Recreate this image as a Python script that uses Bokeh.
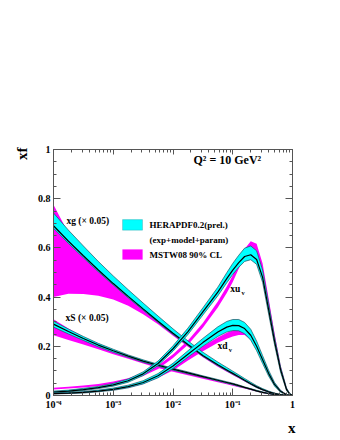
from bokeh.plotting import figure
from bokeh.models import LogAxis, LinearAxis, Label, FixedTicker, BoxAnnotation, Title
from bokeh.embed import file_html
from bokeh.resources import INLINE

# ---------------- data ----------------
x = [1e-4, 1.78e-4, 3.16e-4, 5.62e-4, 1e-3, 1.78e-3, 3.16e-3, 5.62e-3, 1e-2, 1.78e-2,
     3.16e-2, 5.62e-2, 0.0794, 0.1, 0.126, 0.158, 0.2, 0.251, 0.316, 0.398,
     0.501, 0.631, 0.794, 0.891, 1.0]

# HERAPDF0.2 (prel.) : central, upper, lower
xg_c  = [0.69, 0.627, 0.568, 0.51, 0.455, 0.403, 0.352, 0.302, 0.253, 0.207, 0.163, 0.125, 0.104, 0.09, 0.076, 0.062, 0.048, 0.035, 0.024, 0.015, 0.008, 0.0035, 0.001, 0.0003, 0]
xg_hi = [0.742, 0.672, 0.608, 0.545, 0.486, 0.43, 0.376, 0.323, 0.271, 0.222, 0.176, 0.136, 0.114, 0.099, 0.084, 0.069, 0.054, 0.04, 0.028, 0.018, 0.01, 0.0045, 0.0013, 0.0004, 0]
xg_lo = [0.68, 0.618, 0.56, 0.503, 0.449, 0.397, 0.347, 0.297, 0.248, 0.203, 0.159, 0.121, 0.1, 0.086, 0.073, 0.059, 0.045, 0.032, 0.022, 0.013, 0.007, 0.0025, 0.0008, 0.0002, 0]

xS_c  = [0.29, 0.26, 0.232, 0.205, 0.182, 0.16, 0.14, 0.123, 0.107, 0.092, 0.077, 0.062, 0.053, 0.047, 0.04, 0.033, 0.026, 0.019, 0.013, 0.008, 0.004, 0.0017, 0.0005, 0.0001, 0]
xS_hi = [0.302, 0.27, 0.24, 0.212, 0.188, 0.165, 0.145, 0.127, 0.111, 0.096, 0.08, 0.065, 0.056, 0.05, 0.043, 0.035, 0.028, 0.021, 0.015, 0.009, 0.005, 0.0022, 0.0007, 0.0002, 0]
xS_lo = [0.278, 0.25, 0.224, 0.198, 0.176, 0.155, 0.135, 0.119, 0.103, 0.088, 0.074, 0.059, 0.05, 0.044, 0.037, 0.031, 0.024, 0.017, 0.011, 0.007, 0.003, 0.0012, 0.0003, 0.0001, 0]

xuv_c  = [0.014, 0.018, 0.024, 0.032, 0.043, 0.06, 0.088, 0.13, 0.19, 0.26, 0.34, 0.42, 0.475, 0.51, 0.54, 0.565, 0.572, 0.553, 0.48, 0.35, 0.22, 0.105, 0.025, 0.007, 0]
xuv_hi = [0.018, 0.022, 0.029, 0.037, 0.049, 0.067, 0.096, 0.14, 0.202, 0.274, 0.356, 0.44, 0.499, 0.537, 0.57, 0.599, 0.608, 0.588, 0.51, 0.375, 0.238, 0.117, 0.031, 0.010, 0]
xuv_lo = [0.011, 0.015, 0.020, 0.028, 0.038, 0.054, 0.081, 0.122, 0.18, 0.248, 0.327, 0.405, 0.458, 0.492, 0.521, 0.545, 0.552, 0.533, 0.46, 0.332, 0.206, 0.095, 0.02, 0.005, 0]

xdv_c  = [0.008, 0.01, 0.013, 0.018, 0.025, 0.036, 0.053, 0.08, 0.12, 0.168, 0.215, 0.258, 0.278, 0.285, 0.284, 0.272, 0.245, 0.2, 0.145, 0.09, 0.045, 0.017, 0.003, 0.001, 0]
xdv_hi = [0.011, 0.013, 0.016, 0.022, 0.03, 0.042, 0.06, 0.089, 0.131, 0.182, 0.232, 0.279, 0.301, 0.309, 0.309, 0.297, 0.269, 0.221, 0.162, 0.103, 0.053, 0.021, 0.004, 0.0015, 0]
xdv_lo = [0.006, 0.008, 0.01, 0.015, 0.021, 0.031, 0.047, 0.072, 0.11, 0.156, 0.2, 0.24, 0.258, 0.264, 0.263, 0.251, 0.225, 0.182, 0.13, 0.079, 0.038, 0.013, 0.002, 0.0005, 0]

# MSTW08 90% CL : upper, lower
m_xg_hi = [0.775, 0.66, 0.598, 0.537, 0.479, 0.424, 0.37, 0.318, 0.266, 0.217, 0.171, 0.131, 0.109, 0.094, 0.079, 0.065, 0.05, 0.037, 0.025, 0.016, 0.0085, 0.0038, 0.0011, 0.0003, 0]
m_xg_lo = [0.40, 0.414, 0.413, 0.405, 0.39, 0.365, 0.33, 0.29, 0.243, 0.198, 0.155, 0.117, 0.097, 0.083, 0.07, 0.057, 0.044, 0.031, 0.021, 0.0125, 0.0065, 0.0023, 0.0007, 0.0002, 0]
m_xS_hi = [0.31, 0.272, 0.238, 0.208, 0.182, 0.158, 0.138, 0.12, 0.104, 0.089, 0.074, 0.059, 0.05, 0.044, 0.037, 0.031, 0.024, 0.018, 0.012, 0.0075, 0.0038, 0.0016, 0.0005, 0.0001, 0]
m_xS_lo = [0.245, 0.226, 0.207, 0.188, 0.168, 0.149, 0.13, 0.112, 0.097, 0.082, 0.068, 0.054, 0.046, 0.04, 0.034, 0.028, 0.022, 0.016, 0.01, 0.006, 0.003, 0.0012, 0.0004, 0.0001, 0]
m_xuv_hi = [0.032, 0.036, 0.041, 0.047, 0.057, 0.07, 0.091, 0.122, 0.168, 0.224, 0.295, 0.382, 0.443, 0.489, 0.545, 0.596, 0.627, 0.617, 0.537, 0.395, 0.252, 0.122, 0.031, 0.009, 0]
m_xuv_lo = [0.024, 0.028, 0.033, 0.039, 0.047, 0.06, 0.079, 0.108, 0.152, 0.206, 0.275, 0.358, 0.417, 0.461, 0.515, 0.564, 0.593, 0.583, 0.503, 0.365, 0.228, 0.108, 0.025, 0.007, 0]
m_xdv_hi = [0.01, 0.012, 0.015, 0.02, 0.027, 0.038, 0.055, 0.083, 0.118, 0.158, 0.2, 0.236, 0.255, 0.264, 0.27, 0.27, 0.252, 0.212, 0.158, 0.1, 0.052, 0.021, 0.004, 0.0012, 0]
m_xdv_lo = [0.006, 0.008, 0.011, 0.016, 0.022, 0.032, 0.047, 0.072, 0.102, 0.142, 0.18, 0.214, 0.231, 0.24, 0.246, 0.246, 0.228, 0.19, 0.138, 0.086, 0.042, 0.015, 0.002, 0.0008, 0]

x_major = [1e-4, 1e-3, 1e-2, 1e-1, 1.0]
x_labels = ["10\u207b\u2074", "10\u207b\u00b3", "10\u207b\u00b2", "10\u207b\u00b9", "1"]
y_major = [0.0, 0.2, 0.4, 0.6, 0.8, 1.0]
y_labels = ["0", "0.2", "0.4", "0.6", "0.8", "1"]

# ---------------- styling ----------------
FONT = "Liberation Serif"
CYAN = "#00ffff"
MAG = "#ff00ff"
EDGE = "#1f4f5f"
FRAME = "#555555"

p = figure(width=340, height=440, x_axis_type="log", x_range=(1e-4, 1.0), y_range=(0.0, 1.0),
           output_backend="svg", toolbar_location=None,
           min_border_left=53, min_border_right=48, min_border_top=149, min_border_bottom=38)
p.grid.visible = False
p.outline_line_color = None
p.background_fill_color = "white"

# MSTW bands underneath
for hi, lo in [(m_xg_hi, m_xg_lo), (m_xS_hi, m_xS_lo), (m_xuv_hi, m_xuv_lo), (m_xdv_hi, m_xdv_lo)]:
    p.varea(x=x, y1=lo, y2=hi, fill_color=MAG)

# HERAPDF bands on top
for c, hi, lo in [(xg_c, xg_hi, xg_lo), (xS_c, xS_hi, xS_lo), (xuv_c, xuv_hi, xuv_lo), (xdv_c, xdv_hi, xdv_lo)]:
    p.varea(x=x, y1=lo, y2=hi, fill_color=CYAN)
    p.line(x, hi, line_color=EDGE, line_width=0.7)
    p.line(x, lo, line_color=EDGE, line_width=0.7)
    p.line(x, c, line_color="black", line_width=1.2)

# ---------------- axes ----------------
x_minor = [m * 10.0 ** k for k in range(-4, 0) for m in range(2, 10)]
y_minor = [i * 0.05 for i in range(21)]
xt = FixedTicker(ticks=x_major, minor_ticks=x_minor)
yt = FixedTicker(ticks=y_major, minor_ticks=y_minor)

def style(ax, major=7):
    ax.axis_line_color = FRAME
    ax.major_tick_line_color = FRAME
    ax.minor_tick_line_color = FRAME
    ax.major_tick_in = major
    ax.major_tick_out = 0
    ax.minor_tick_in = 3
    ax.minor_tick_out = 0
    ax.major_label_text_font = FONT
    ax.major_label_text_font_style = "bold"
    ax.major_label_text_color = "black"

p.xaxis.ticker = xt
p.yaxis.ticker = yt
style(p.xaxis[0]); style(p.yaxis[0])
p.xaxis.major_label_overrides = dict(zip(x_major, x_labels))
p.yaxis.major_label_overrides = dict(zip(y_major, y_labels))
p.xaxis.major_label_text_font_size = "10px"
p.yaxis.major_label_text_font_size = "10px"
p.xaxis.major_label_standoff = 3
p.yaxis.major_label_standoff = 3

top = LogAxis(ticker=xt)
style(top, major=5)
top.major_label_text_font_size = "6px"
top.major_label_text_color = None
p.add_layout(top, "above")
right = LinearAxis(ticker=yt)
style(right)
right.major_label_text_font_size = "6px"
right.major_label_text_color = None
p.add_layout(right, "right")

# axis titles at the far ends of the axes
p.add_layout(Title(text="xf", align="right", text_font=FONT, text_font_style="bold",
                   text_font_size="15px", text_color="black", offset=-2), "left")
p.add_layout(Title(text="x", align="right", text_font=FONT, text_font_style="bold",
                   text_font_size="15px", text_color="black", offset=-3), "below")

def lab(xv, yv, t, size, align="left", base="middle"):
    p.add_layout(Label(x=xv, y=yv, text=t, text_font=FONT, text_font_style="bold",
                       text_font_size=size, text_align=align, text_baseline=base,
                       text_color="black"))

# annotations
lab(0.022, 0.958, "Q\u00b2 = 10 GeV\u00b2", "12px")
lab(1.65e-4, 0.711, "xg (\u00d7 0.05)", "9.5px")
lab(1.59e-4, 0.316, "xS (\u00d7 0.05)", "9.5px")
lab(0.091, 0.431, "xu", "9.5px")
lab(0.140, 0.418, "v", "6.5px")
lab(0.0556, 0.20, "xd", "9.5px")
lab(0.0855, 0.187, "v", "6.5px")

# legend
p.add_layout(BoxAnnotation(left=1.43e-3, right=3.09e-3, bottom=0.672, top=0.715,
                           fill_color=CYAN, fill_alpha=1.0, line_color=EDGE, line_width=0.7))
p.add_layout(BoxAnnotation(left=1.43e-3, right=3.09e-3, bottom=0.553, top=0.593,
                           fill_color=MAG, fill_alpha=1.0, line_color=MAG, line_width=0.7))
lab(4.05e-3, 0.692, "HERAPDF0.2(prel.)", "9px")
lab(4.05e-3, 0.632, "(exp+model+param)", "9px")
lab(4.05e-3, 0.570, "MSTW08 90% CL", "9px")

open("out.html", "w").write(file_html(p, INLINE))
